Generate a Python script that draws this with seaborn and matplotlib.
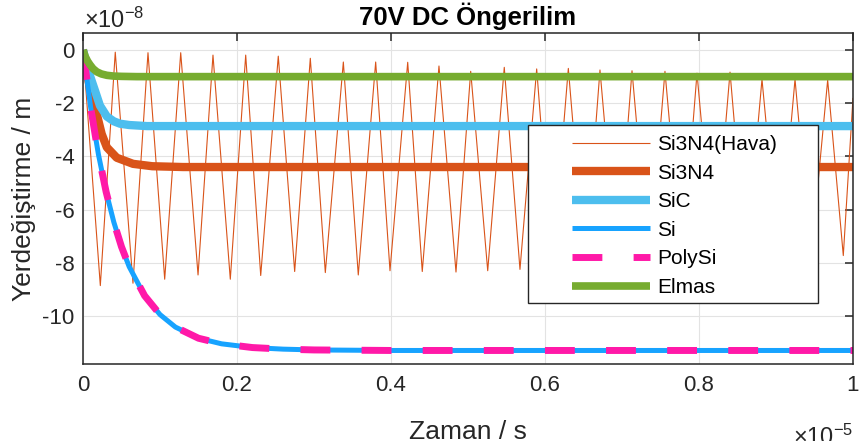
import matplotlib
matplotlib.use("Agg")
import matplotlib.pyplot as plt
import pandas as pd
import seaborn as sns
from matplotlib.patches import Rectangle

# ---- data (time in units of 1e-5 s, displacement in units of 1e-8 m) ----
hava_t = [0, 0.0225, 0.0419, 0.0649, 0.0844, 0.1061, 0.1269, 0.1494, 0.1688,
          0.1913, 0.2113, 0.2308, 0.2536, 0.2749, 0.2952, 0.3147, 0.3381,
          0.3575, 0.3801, 0.3987, 0.4217, 0.4406, 0.4623, 0.4844, 0.5035,
          0.5256, 0.5471, 0.5675, 0.5892, 0.6091, 0.6303, 0.6519, 0.6714,
          0.6935, 0.7130, 0.7351, 0.7558, 0.7779, 0.7974, 0.8195, 0.8403,
          0.8610, 0.8818, 0.9039, 0.9247, 0.9455, 0.9671, 0.9874, 1.0]
hava_v = [0, -8.86, -0.08, -8.77, -0.10, -8.62, -0.10, -8.46, -0.19,
          -8.62, -0.19, -8.48, -0.23, -8.33, -0.31, -8.37, -0.45,
          -8.46, -0.45, -8.30, -0.46, -8.33, -0.60, -8.35, -0.80,
          -8.30, -0.65, -8.25, -0.71, -8.20, -0.69, -8.20, -0.75,
          -8.10, -0.78, -8.10, -0.80, -8.00, -0.87, -8.00, -0.83,
          -7.90, -1.10, -7.90, -1.10, -7.80, -1.13, -7.73, -1.80]

si3n4_t = [0, 0.006, 0.012, 0.0178, 0.0243, 0.031, 0.0438, 0.065, 0.09, 0.13, 1.0]
si3n4_v = [0, -1.0, -1.8, -2.4, -3.16, -3.66, -4.05, -4.28, -4.37, -4.40, -4.40]

sic_t = [0, 0.005, 0.01, 0.0156, 0.022, 0.031, 0.04, 0.048, 0.06, 0.083, 1.0]
sic_v = [0, -0.55, -1.05, -1.53, -2.09, -2.50, -2.68, -2.77, -2.82, -2.86, -2.86]

si_t = [0, 0.01, 0.02, 0.03, 0.04, 0.05, 0.06, 0.08, 0.10, 0.12, 0.15, 0.18,
        0.22, 0.26, 0.30, 0.35, 0.40, 0.50, 1.0]
si_v = [0, -2.17, -3.92, -5.33, -6.47, -7.40, -8.15, -9.24, -9.95, -10.42,
        -10.84, -11.05, -11.19, -11.25, -11.28, -11.29, -11.30, -11.30, -11.30]

polysi_t = [0, 0.01, 0.02, 0.03, 0.04, 0.05, 0.06, 0.08, 0.10, 0.12, 0.15, 0.18,
            0.22, 0.26, 0.30, 0.35, 0.40, 0.50, 1.0]
polysi_v = [0, -2.17, -3.92, -5.33, -6.47, -7.40, -8.15, -9.24, -9.95, -10.42,
            -10.84, -11.05, -11.19, -11.25, -11.28, -11.29, -11.30, -11.30, -11.30]

elmas_t = [0, 0.003, 0.006, 0.009, 0.013, 0.018, 0.024, 0.031, 0.04, 0.05, 0.07, 1.0]
elmas_v = [0, -0.25, -0.42, -0.55, -0.70, -0.82, -0.90, -0.95, -0.98, -0.99, -1.0, -1.0]

x_ticks = [0, 0.2, 0.4, 0.6, 0.8, 1.0]
x_tick_labels = ["0", "0.2", "0.4", "0.6", "0.8", "1"]
y_ticks = [-10, -8, -6, -4, -2, 0]
y_tick_labels = ["-10", "-8", "-6", "-4", "-2", "0"]

title = "70V DC Öngerilim"
xlabel = "Zaman / s"
ylabel = "Yerdeğiştirme / m"

# ---- style ----
sns.set_theme(style="whitegrid")
plt.rcParams["font.family"] = ["Liberation Sans", "DejaVu Sans"]
plt.rcParams["mathtext.fontset"] = "custom"
plt.rcParams["mathtext.rm"] = "Liberation Sans"
plt.rcParams["mathtext.it"] = "Liberation Sans"
plt.rcParams["axes.unicode_minus"] = False

TXT = "#262626"
W, H = 859, 441
fig = plt.figure(figsize=(W / 100, H / 100), dpi=100)
fig.patch.set_facecolor("white")
ax = fig.add_axes([83 / W, 1 - 364.3 / H, 770 / W, 331 / H])
ax.set_facecolor("white")

series = [
    ("Si3N4(Hava)", hava_t, hava_v, "#D95319", 0.8, "-"),
    ("Si3N4", si3n4_t, si3n4_v, "#D95319", 6.0, "-"),
    ("SiC", sic_t, sic_v, "#4DBEEE", 6.0, "-"),
    ("Si", si_t, si_v, "#17A3FF", 3.6, "-"),
    ("PolySi", polysi_t, polysi_v, "#FF19A8", 5.0, (0, (4.3, 4.5))),
    ("Elmas", elmas_t, elmas_v, "#77AC30", 5.5, "-"),
]
handles = []
for name, t, v, col, lw, ls in series:
    df = pd.DataFrame({"t": t, "v": v})
    sns.lineplot(data=df, x="t", y="v", ax=ax, color=col, linewidth=lw,
                 linestyle=ls, estimator=None, sort=False, legend=False,
                 solid_capstyle="butt", dash_capstyle="butt")
    handles.append(ax.lines[-1])

ax.set_xlim(0, 1)
ax.set_ylim(-11.82, 0.63)
ax.set_xticks(x_ticks)
ax.set_xticklabels(x_tick_labels)
ax.set_yticks(y_ticks)
ax.set_yticklabels(y_tick_labels)
ax.grid(True, color="#E3E3E3", linewidth=0.8)
ax.set_axisbelow(True)
for sp in ax.spines.values():
    sp.set_color(TXT)
    sp.set_linewidth(1.1)
ax.tick_params(direction="in", length=6, width=1.1, top=True, right=True,
               colors=TXT, labelsize=16, pad=6)
ax.tick_params(axis="x", pad=7.5)

ax.set_title(title, fontsize=18.5, fontweight="bold", color="black", pad=6)
ax.set_xlabel(xlabel, fontsize=19, color=TXT)
ax.set_ylabel(ylabel, fontsize=19, color=TXT)
ax.xaxis.set_label_coords(0.5, -0.168)
ax.yaxis.set_label_coords(-0.061, 0.5)

# exponent labels
fig.text(84 / W, 1 - 28 / H, r"$\mathregular{\times10^{-8}}$", fontsize=17,
         color=TXT, ha="left", va="baseline")
fig.text(853 / W, -4 / H, r"$\mathregular{\times10^{-5}}$", fontsize=17,
         color=TXT, ha="right", va="baseline")

# legend box (MATLAB-like wide frame)
ax.add_patch(Rectangle((0.578, 0.185), 0.3766, 0.538, transform=ax.transAxes,
                       facecolor="white", edgecolor=TXT, linewidth=1.0,
                       zorder=4.9, clip_on=False))
leg = ax.legend(handles, [s[0] for s in series], loc="upper left",
                bbox_to_anchor=(0.635, 0.693), frameon=False, borderpad=0,
                borderaxespad=0, fontsize=15, handlelength=3.75,
                handletextpad=0.33, labelspacing=0.46)
leg.set_zorder(5)
for txt in leg.get_texts():
    txt.set_color("black")

fig.savefig("out.png", dpi=100)
